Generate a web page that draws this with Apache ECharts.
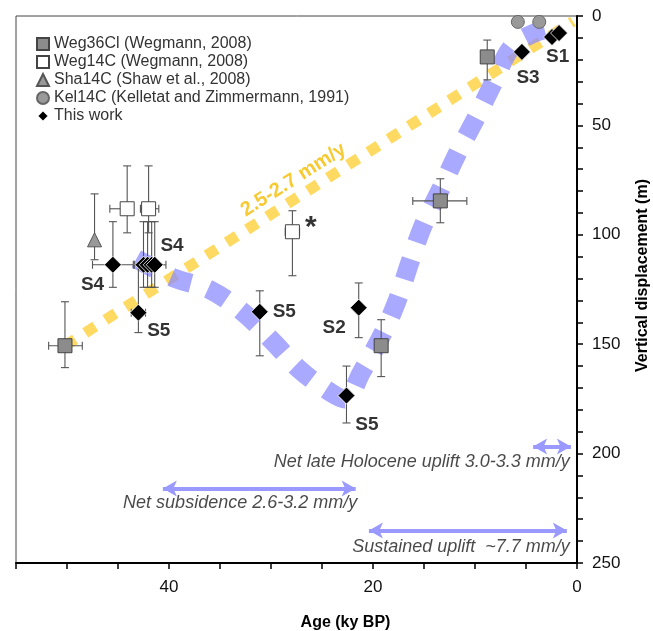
<!DOCTYPE html>
<html><head><meta charset="utf-8">
<script src="https://cdn.jsdelivr.net/npm/echarts@6/dist/echarts.min.js"></script>
<style>html,body{margin:0;padding:0;background:#fff}#c{width:653px;height:631px}</style>
</head><body><div id="c"></div>
<script>
// rows: [age (ky BP), displacement (m), ageLow, ageHigh, dispLow, dispHigh]
const weg36cl = [
  [50.2,150.7,48.5,51.8,130.6,160.7],
  [19.2,150.7,19.2,19.2,138.8,164.8],
  [13.4,84.5,10.8,16.1,74.4,94.5],
  [8.8,18.7,8.8,8.8,11.0,29.2]
];
const weg14c = [
  [44.1,88.1,43.6,45.8,68.5,99.1],
  [42.0,88.1,41.0,42.8,68.5,99.1],
  [27.9,98.6,27.2,28.6,89.0,118.7]
];
const sha14c = [
  [47.3,102.3,47.3,47.3,81.3,111.4]
];
const kel14c = [
  [5.8,2.7,5.8,5.8,2.7,2.7],
  [3.7,2.7,3.7,3.7,2.7,2.7]
];
const thisWork = [
  [2.45,9.6,2.45,2.45,9.6,9.6],
  [1.76,7.8,1.76,1.76,7.8,7.8],
  [5.4,16.4,5.4,5.4,16.4,16.4],
  [21.4,133.3,21.4,21.4,122.0,147.0],
  [22.6,173.5,22.6,22.6,160.0,186.0],
  [31.1,135.2,31.1,31.1,125.6,155.3],
  [45.5,113.7,43.5,47.5,94.0,124.0],
  [42.5,113.7,43.4,41.6,94.0,124.0],
  [42.1,113.7,42.1,42.1,94.0,124.0],
  [41.7,113.7,41.7,41.7,94.0,124.0],
  [41.4,113.7,42.5,40.3,94.0,124.0],
  [43.0,135.6,43.7,42.3,114.0,144.7]
];
// trend lines
const yellowTrend = [[50.2,150.7],[0.4,2.5]];
const blueTrend = [[43.2,111],[39.6,119.6],[36.0,125.1],[32.7,135.6],[29.8,148.9],[27.2,161.6],[24.5,171],[22.8,175],[21.1,162.6],[19.0,144.7],[17.6,129.7],[16.4,112.8],[15.1,95.9],[13.4,79.5],[11.7,62.6],[9.9,46.6],[8.2,30.6],[6.4,14.2],[4.2,7.8],[2.2,5.2]];
// double-headed arrows: [ageStart, ageEnd, displacement]
const arrows = [[4.3,0.6,196.8],[40.6,21.7,216.0],[20.4,1.0,235.2]];
// sample labels: [age, displacement, text]
const sampleLabels = [[1.9,18.7,'S1'],[4.8,28.3,'S3'],[39.7,105,'S4'],[47.5,122.8,'S4'],[41.0,143.8,'S5'],[28.7,135.2,'S5'],[23.8,142.5,'S2'],[20.6,186.8,'S5']];
const starLabel = [[26.1,96.8,'*']];
const rateLabel = [[27.8,74.9,'2.5-2.7 mm/y']];
const rightNotes = [[0.7,204,'Net late Holocene uplift 3.0-3.3 mm/y'],[0.7,242.5,'Sustained uplift  ~7.7 mm/y']];
const leftNotes = [[44.5,222.4,'Net subsidence 2.6-3.2 mm/y']];
const xLabelVals = [0,20,40];
const yLabelVals = [0,50,100,150,200,250];

const FONT = 'Liberation Sans, Arial, sans-serif';
function errRender(params, api){
  const x=api.value(0), y=api.value(1), xl=api.value(2), xh=api.value(3), yl=api.value(4), yh=api.value(5);
  const cap=4, ch=[], st={stroke:'#555', lineWidth:1.1};
  if (yl!==yh){
    const a=api.coord([x,yl]), b=api.coord([x,yh]);
    ch.push({type:'line',shape:{x1:a[0],y1:a[1],x2:b[0],y2:b[1]},style:st});
    ch.push({type:'line',shape:{x1:a[0]-cap,y1:a[1],x2:a[0]+cap,y2:a[1]},style:st});
    ch.push({type:'line',shape:{x1:b[0]-cap,y1:b[1],x2:b[0]+cap,y2:b[1]},style:st});
  }
  if (xl!==xh){
    const a=api.coord([xl,y]), b=api.coord([xh,y]);
    ch.push({type:'line',shape:{x1:a[0],y1:a[1],x2:b[0],y2:b[1]},style:st});
    ch.push({type:'line',shape:{x1:a[0],y1:a[1]-cap,x2:a[0],y2:a[1]+cap},style:st});
    ch.push({type:'line',shape:{x1:b[0],y1:b[1]-cap,x2:b[0],y2:b[1]+cap},style:st});
  }
  return {type:'group',children:ch};
}
function errSeries(d){return {type:'custom',renderItem:errRender,data:d,z:3,silent:true,encode:{x:0,y:1}};}
function textSeries(arr, lab){
  return {type:'scatter',symbolSize:0,silent:true,z:6,
    data:arr.map(r=>({value:[r[0],r[1]],label:{formatter:r[2]}})),
    label:Object.assign({show:true,position:'inside',fontFamily:FONT},lab)};
}

const chart = echarts.init(document.getElementById('c'));
chart.setOption({
  animation:false,
  textStyle:{fontFamily:FONT},
  grid:{left:16,right:76,top:16,bottom:68,show:true,borderColor:'#444',borderWidth:1,outerBoundsMode:'none',containLabel:false},
  legend:{orient:'vertical',left:31,top:31,itemWidth:12,itemHeight:12,itemGap:2,
    textStyle:{fontSize:16,color:'#333',fontFamily:FONT},
    data:['Weg36Cl (Wegmann, 2008)','Weg14C (Wegmann, 2008)','Sha14C (Shaw et al., 2008)','Kel14C (Kelletat and Zimmermann, 1991)','This work']},
  xAxis:{type:'value',min:0,max:55,interval:5,inverse:true,
    axisLine:{show:true,onZero:false,lineStyle:{color:'#000',width:2}},
    axisTick:{show:true,length:6,lineStyle:{color:'#000',width:1.5}},
    axisLabel:{showMinLabel:true,showMaxLabel:true,formatter:v=>xLabelVals.includes(v)?String(v):'',fontSize:17,color:'#111',margin:16},
    splitLine:{show:false},
    name:'Age (ky BP)',nameLocation:'middle',nameGap:52,
    nameTextStyle:{fontWeight:'bold',fontSize:16,color:'#000',padding:[0,0,0,98]}},
  yAxis:{type:'value',position:'right',min:0,max:250,interval:10,inverse:true,
    axisLine:{show:true,onZero:false,lineStyle:{color:'#000',width:2}},
    axisTick:{show:true,length:6,lineStyle:{color:'#000',width:1.5}},
    axisLabel:{showMinLabel:true,showMaxLabel:true,formatter:v=>yLabelVals.includes(v)?String(v):'',fontSize:17,color:'#111',margin:15},
    splitLine:{show:false},
    name:'Vertical displacement (m)',nameLocation:'middle',nameGap:58,nameRotate:90,
    nameTextStyle:{fontWeight:'bold',fontSize:16,color:'#000',padding:[0,0,0,28]}},
  series:[
    {type:'line',data:yellowTrend,showSymbol:false,silent:true,z:1,
      lineStyle:{color:'rgba(255,212,70,0.85)',width:11,type:[12,12],cap:'butt'}},
    {type:'line',data:blueTrend,smooth:0.35,showSymbol:false,silent:true,z:2,
      lineStyle:{color:'rgba(140,140,255,0.75)',width:19,type:[21,18],cap:'butt'}},
    {type:'line',data:[],silent:true,z:2,
      markLine:{silent:true,symbol:['arrow','arrow'],symbolSize:[12,14],label:{show:false},
        lineStyle:{color:'#9999ff',width:4,type:'solid',opacity:1},
        data:arrows.map(a=>[{coord:[a[0],a[2]]},{coord:[a[1],a[2]]}])}},
    errSeries(weg36cl),errSeries(weg14c),errSeries(sha14c),errSeries(thisWork),
    {name:'Weg36Cl (Wegmann, 2008)',type:'scatter',data:weg36cl,symbol:'rect',symbolSize:14,z:4,
      itemStyle:{color:'#8c8c8c',borderColor:'#444',borderWidth:1,opacity:1}},
    {name:'Weg14C (Wegmann, 2008)',type:'scatter',data:weg14c,symbol:'rect',symbolSize:14,z:4,
      itemStyle:{color:'#fff',borderColor:'#444',borderWidth:1,opacity:1}},
    {name:'Sha14C (Shaw et al., 2008)',type:'scatter',data:sha14c,symbol:'triangle',symbolSize:14,z:4,
      itemStyle:{color:'#999',borderColor:'#555',borderWidth:1,opacity:1}},
    {name:'Kel14C (Kelletat and Zimmermann, 1991)',type:'scatter',data:kel14c,symbol:'circle',symbolSize:13,z:4,
      itemStyle:{color:'#999',borderColor:'#666',borderWidth:1,opacity:1}},
    {name:'This work',type:'scatter',data:thisWork,symbol:'diamond',symbolSize:17,z:5,
      itemStyle:{color:'#000',borderColor:'#fff',borderWidth:0.8,opacity:1}},
    textSeries(sampleLabels,{fontSize:19,fontWeight:'bold',color:'#000'}),
    textSeries(starLabel,{fontSize:30,fontWeight:'bold',color:'#000'}),
    textSeries(rateLabel,{fontSize:20,fontWeight:'bold',color:'#f5bd00',rotate:32.5}),
    textSeries(rightNotes,{fontSize:18,fontStyle:'italic',color:'#1a1a1a',align:'right'}),
    textSeries(leftNotes,{fontSize:18,fontStyle:'italic',color:'#1a1a1a',align:'left'})
  ]
});
</script></body></html>
